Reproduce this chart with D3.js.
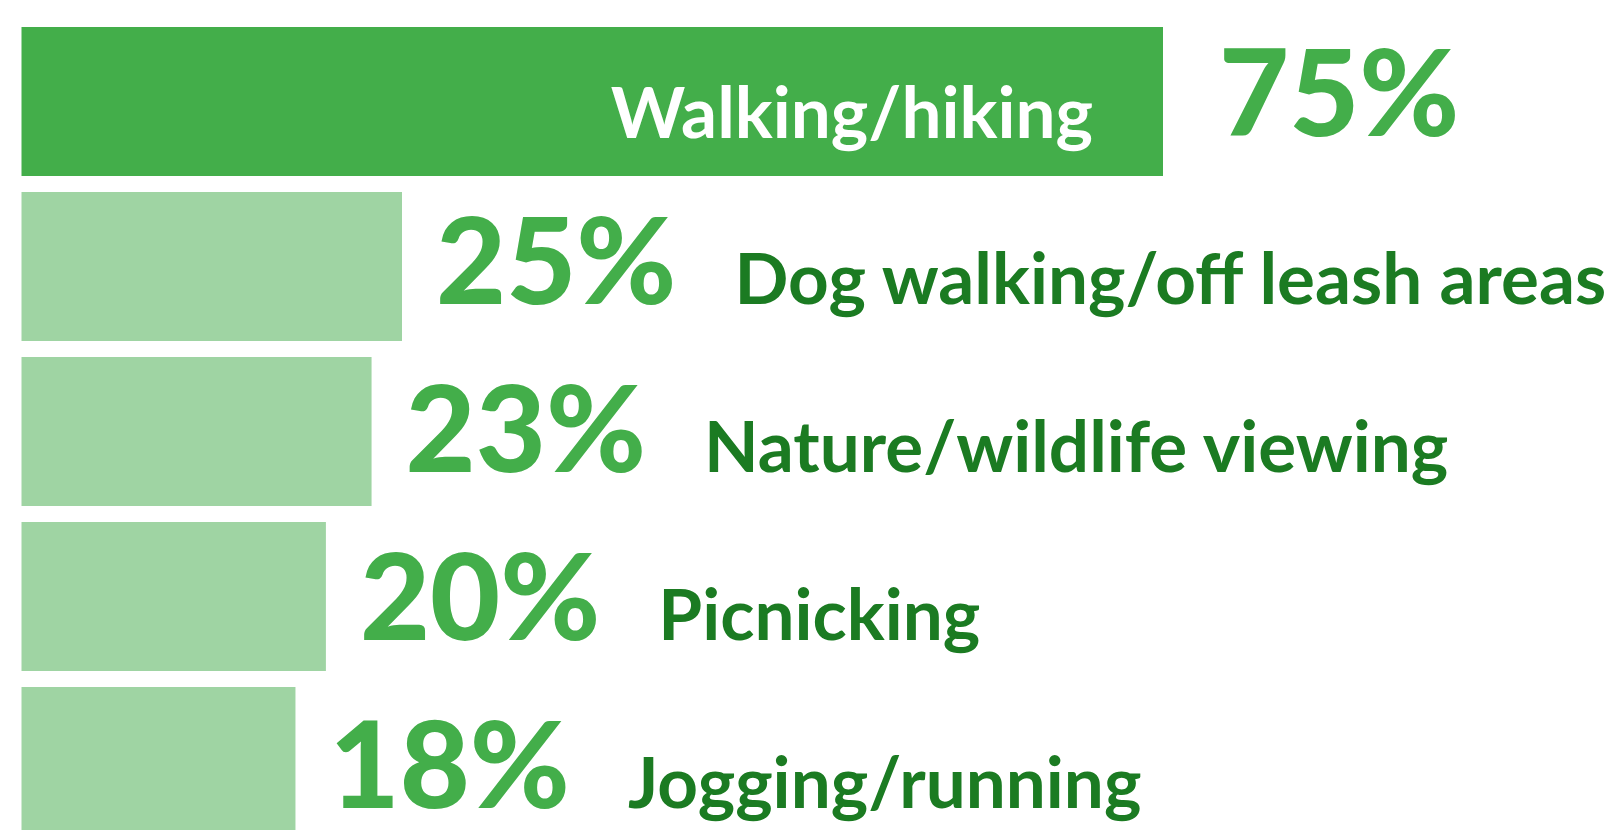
<!DOCTYPE html>
<html>
  <head>
    <meta charset="utf-8" />
    <title>activities</title>
  </head>

  <style>
    body {
      background: #fff;
      padding: 0px;
      margin: 0px;
      overflow: hidden;
    }

    .bar { fill: #9fd4a3; }
    .bar.top { fill: #43ae4a; }

    .pct {
      fill: #43ae4a;
      font-family: Lato, sans-serif;
      font-weight: 900;
      font-size: 121px;
    }

    .label {
      fill: #1b7b22;
      font-family: Lato, sans-serif;
      font-weight: 700;
      font-size: 71px;
    }
    .label.inside { fill: #fff; }
  </style>

  <body>
    <script src="https://cdn.jsdelivr.net/npm/d3@7"></script>
    <script>

      // values
      var categories = ["Walking/hiking", "Dog walking/off leash areas", "Nature/wildlife viewing", "Picnicking", "Jogging/running"];
      var values = [75, 25, 23, 20, 18];
      var pctLabels = ["75%", "25%", "23%", "20%", "18%"];

      var width = 1613,
          height = 830,
          numGap = 34,
          labelGap = 58;

      var svg = d3.select("body").append("svg")
          .attr("width", width)
          .attr("height", height);

      var x = d3.scaleLinear()
          .domain([0, 75])
          .range([21.5, 1163]);

      var y = d3.scaleBand()
          .domain(categories)
          .range([27, 836])
          .paddingInner(16 / 165);

      // text baselines sit on a slightly wider pitch than the bars
      var yText = d3.scalePoint()
          .domain(categories)
          .range([136, 808]);

      svg.selectAll(".bar")
          .data(categories)
        .enter().append("rect")
          .attr("class", function(d, i) { return i == 0 ? "bar top" : "bar"; })
          .attr("x", x(0))
          .attr("y", function(d) { return y(d); })
          .attr("width", function(d, i) { return x(values[i]) - x(0); })
          .attr("height", y.bandwidth());

      var pct = svg.selectAll(".pct")
          .data(categories)
        .enter().append("text")
          .attr("class", "pct")
          .attr("x", function(d, i) { return x(values[i]) + (i == 0 ? 56 : numGap); })
          .attr("y", function(d) { return yText(d); })
          .text(function(d, i) { return pctLabels[i]; });

      svg.selectAll(".label")
          .data(categories)
        .enter().append("text")
          .attr("class", function(d, i) { return i == 0 ? "label inside" : "label"; })
          .attr("text-anchor", function(d, i) { return i == 0 ? "end" : "start"; })
          .attr("x", function(d, i) {
            if (i == 0) return x(values[i]) - 70;
            var b = pct.nodes()[i].getBBox();
            return b.x + b.width + labelGap;
          })
          .attr("y", function(d, i) { return yText(d) + (i == 0 ? 2 : 0); })
          .text(function(d) { return d; });

    </script>
  </body>
</html>
